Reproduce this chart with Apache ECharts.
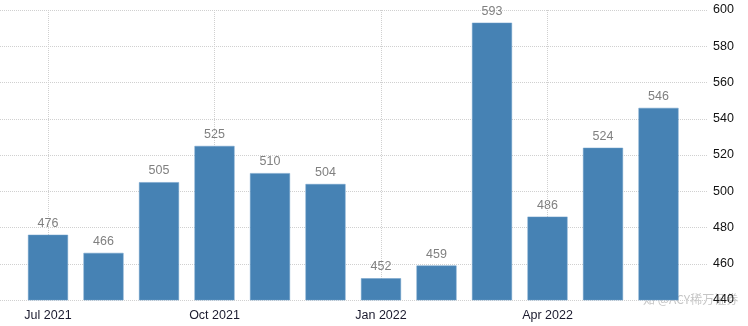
<!DOCTYPE html>
<html><head><meta charset="utf-8">
<script src="https://cdn.jsdelivr.net/npm/echarts@6/dist/echarts.min.js"></script>
<style>html,body{margin:0;padding:0;background:#fff}#c{width:748px;height:326px}</style>
</head><body><div id="c"></div>
<script>
const categories = ['Jul 2021','Aug 2021','Sep 2021','Oct 2021','Nov 2021','Dec 2021','Jan 2022','Feb 2022','Mar 2022','Apr 2022','May 2022','Jun 2022'];
const values = [476, 466, 505, 525, 510, 504, 452, 459, 593, 486, 524, 546];
const yMin = 440, yMax = 600, yStep = 20;
const labelEvery = 3;

const chart = echarts.init(document.getElementById('c'), null, {renderer:'canvas'});
const gridLine = {show:true, lineStyle:{color:'#d0d0d0', type:[1,1], width:1}};
const font = 'Liberation Sans';
chart.setOption({
  animation:false,
  grid:[
    {left:0, right:40, top:10, bottom:26},
    {left:20.25, right:61.75, top:10, bottom:26},
    {left:48, right:200.5, top:10, bottom:26}
  ],
  xAxis:[
    {gridIndex:0, type:'value', min:0, max:1, show:false},
    {gridIndex:1, type:'category', data:categories, show:false},
    {gridIndex:2, type:'value', min:0, max:9, interval:labelEvery,
     axisLine:{show:false}, axisTick:{show:false}, splitLine:gridLine,
     axisLabel:{color:'#1a1a2e', fontSize:12.5, fontFamily:font, margin:9, showMinLabel:true, showMaxLabel:true,
       formatter:(v)=>categories[v]}}
  ],
  yAxis:[
    {gridIndex:0, type:'value', position:'right', min:yMin, max:yMax, interval:yStep,
     axisLine:{show:false}, axisTick:{show:false}, splitLine:gridLine,
     axisLabel:{color:'#111', fontSize:12.5, fontFamily:font, margin:5}},
    {gridIndex:1, type:'value', min:yMin, max:yMax, interval:yStep, show:false, splitLine:{show:false}},
    {gridIndex:2, type:'value', min:yMin, max:yMax, interval:yStep, show:false, splitLine:{show:false}}
  ],
  series:[{
    type:'bar', xAxisIndex:1, yAxisIndex:1, data:values, barWidth:40,
    itemStyle:{color:'#4682B4', borderColor:'#6f9ec8', borderWidth:0.5},
    label:{show:true, position:'top', distance:5, color:'#808080', fontSize:12.5, fontFamily:font}
  }],
  graphic:[{type:'text', left:643, top:293, style:{text:'知 @ACY稀万证券', fill:'rgba(150,150,150,0.55)', font:'12px "Noto Sans CJK SC"'}}]
});
</script></body></html>
